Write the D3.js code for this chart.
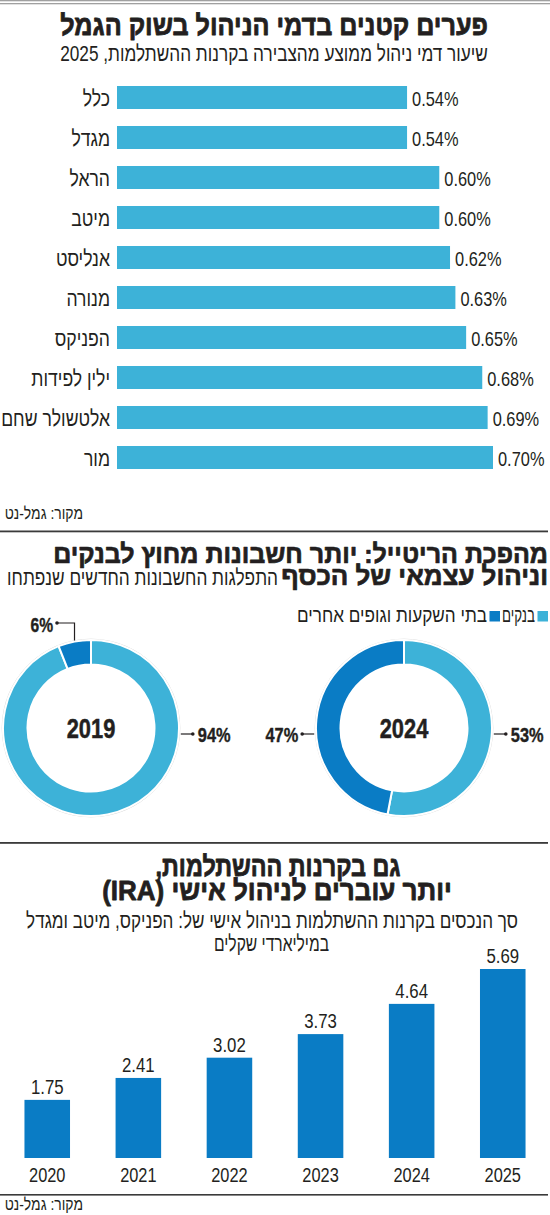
<!DOCTYPE html>
<html><head><meta charset="utf-8">
<script src="https://cdn.jsdelivr.net/npm/d3@7"></script>
<style>html,body{margin:0;padding:0;background:#fff}svg{display:block}</style>
</head><body>
<svg id="c" width="550" height="1215"></svg>
<script>
// ---------- DATA ----------
const title1 = "פערים קטנים בדמי הניהול בשוק הגמל";
const subtitle1 = "שיעור דמי ניהול ממוצע מהצבירה בקרנות ההשתלמות, 2025";
const funds = ["כלל","מגדל","הראל","מיטב","אנליסט","מנורה","הפניקס","ילין לפידות","אלטשולר שחם","מור"];
const fees = [0.54,0.54,0.60,0.60,0.62,0.63,0.65,0.68,0.69,0.70];
const source = "מקור: גמל-נט";

const title2a = "מהפכת הריטייל: יותר חשבונות מחוץ לבנקים";
const title2b = "וניהול עצמאי של הכסף";
const subtitle2 = "התפלגות החשבונות החדשים שנפתחו";
const seriesNames = ["בנקים","בתי השקעות וגופים אחרים"];
const donutYears = ["2019","2024"];
const banksShare = [94,53];
const othersShare = [6,47];

const title3a = "גם בקרנות ההשתלמות,";
const title3b = "יותר עוברים לניהול אישי (IRA)";
const subtitle3a = "סך הנכסים בקרנות ההשתלמות בניהול אישי של: הפניקס, מיטב ומגדל";
const subtitle3b = "במיליארדי שקלים";
const iraYears = ["2020","2021","2022","2023","2024","2025"];
const iraAssets = [1.75,2.41,3.02,3.73,4.64,5.69];

// ---------- STYLE ----------
const LIGHT = "#3db2d8", DARK = "#0a7cc5", INK = "#231f20";
const FONT = "'Liberation Sans', Arial, sans-serif";
const rtl = s => "\u202B" + s + "\u202C";

const svg = d3.select("#c");
svg.append("rect").attr("width",550).attr("height",1215).attr("fill","#fff");

function t(x, y, s, o = {}) {
  const el = svg.append("text")
    .attr("text-anchor", o.anchor || "end")
    .attr("font-family", FONT)
    .attr("font-size", o.size || 19)
    .attr("font-weight", o.weight || "normal")
    .attr("fill", o.fill || INK)
    .text(o.he === false ? s : rtl(s));
  let sx = o.sx || 1;
  if (o.len) sx = o.len / el.node().getComputedTextLength();
  el.attr("transform", `translate(${x},${y}) scale(${sx},1)`);
  if (o.heavy) el.attr("stroke", INK).attr("stroke-width", o.heavy).attr("stroke-linejoin","round");
  return el;
}

// top double rule
svg.append("rect").attr("x",0).attr("y",0).attr("width",550).attr("height",1.3).attr("fill","#a0a0a0");
svg.append("rect").attr("x",0).attr("y",3).attr("width",550).attr("height",1.3).attr("fill","#a0a0a0");

// ---------- SECTION 1 ----------
t(274, 35, title1, {anchor:"middle", size:28, weight:"bold", len:428, heavy:0.8});
t(274, 61, subtitle1, {anchor:"middle", size:22, len:428});

const x1 = d3.scaleLinear().domain([0, 0.70]).range([117, 493]);
const y1 = d3.scaleBand().domain(funds).range([86, 469]).paddingInner(0.425).paddingOuter(0);

svg.append("g").selectAll("rect").data(funds).join("rect")
  .attr("x", x1(0)).attr("y", d => y1(d))
  .attr("width", (d,i) => x1(fees[i]) - x1(0)).attr("height", y1.bandwidth())
  .attr("fill", LIGHT);

funds.forEach((f,i) => {
  t(110, y1(f) + 19.5, f, {size:22, sx:0.8});
  t(x1(fees[i]) + 5, y1(f) + 19.5, fees[i].toFixed(2) + "%", {anchor:"start", size:20, sx:0.82, he:false});
});
t(83, 519, source, {size:17, sx:0.82});

// rule
svg.append("rect").attr("x",0).attr("y",530.5).attr("width",548).attr("height",1.8).attr("fill","#3a3a3a");

// ---------- SECTION 2 ----------
t(548, 563, title2a, {size:26, weight:"bold", len:495, heavy:0.7});
t(548, 585, title2b, {size:26, weight:"bold", len:267, heavy:0.7});
t(278, 585, subtitle2, {size:22, len:271});

// legend
const legendColors = [LIGHT, DARK];
const legendRight = [548, 500];
const legendLen = [33, 190];
seriesNames.forEach((n,i) => {
  svg.append("rect").attr("x", legendRight[i]-10.5).attr("y", 611).attr("width",10.5).attr("height",10.5).attr("fill", legendColors[i]);
  t(legendRight[i]-13, 621.5, n, {size:20, len:legendLen[i]});
});

const rOut = 88, rIn = 63.5, cy = 728;
const cxs = [91, 404];
const pie = d3.pie().sort(null).startAngle(0).endAngle(2*Math.PI);
const arc = d3.arc().innerRadius(rIn).outerRadius(rOut);

donutYears.forEach((yr,k) => {
  const g = svg.append("g").attr("transform", `translate(${cxs[k]},${cy})`);
  g.append("circle").attr("r", rOut + 0.8).attr("fill","none").attr("stroke","#d8d8d8").attr("stroke-width",1);
  const arcs = pie([banksShare[k], othersShare[k]]);
  g.selectAll("path").data(arcs).join("path")
    .attr("d", arc).attr("fill", (d,i) => legendColors[i])
    .attr("stroke","#fff").attr("stroke-width",2);
  t(cxs[k], cy + 10, yr, {anchor:"middle", size:28, weight:"bold", sx:0.78, he:false, heavy:0.5});

  // right label (banks)
  const ly = cy + 6;
  const ex = cxs[k] + Math.sqrt(rOut*rOut - 36);
  svg.append("line").attr("x1", ex + 2).attr("x2", ex + 14).attr("y1", ly).attr("y2", ly).attr("stroke", INK).attr("stroke-width",1.2);
  svg.append("circle").attr("cx", ex + 14).attr("cy", ly).attr("r", 1.8).attr("fill", INK);
  t(ex + 19, ly + 8, banksShare[k] + "%", {anchor:"start", size:21, weight:"bold", sx:0.78, he:false, heavy:0.4});

  if (k === 1) {
    const lx = cxs[k] - Math.sqrt(rOut*rOut - 36);
    svg.append("line").attr("x1", lx - 2).attr("x2", lx - 14).attr("y1", ly).attr("y2", ly).attr("stroke", INK).attr("stroke-width",1.2);
    svg.append("circle").attr("cx", lx - 14).attr("cy", ly).attr("r", 1.8).attr("fill", INK);
    t(lx - 18, ly + 8, othersShare[k] + "%", {size:21, weight:"bold", sx:0.78, he:false, heavy:0.4});
  } else {
    const a = arcs[1];
    const mid = (a.startAngle + a.endAngle) / 2;
    const px = cxs[k] + rOut * Math.sin(mid), py = cy - rOut * Math.cos(mid);
    const topY = 623;
    svg.append("path").attr("d", `M${px},${py - 1}V${topY}H${57}`).attr("fill","none").attr("stroke", INK).attr("stroke-width",1.2);
    svg.append("circle").attr("cx", 57).attr("cy", topY).attr("r", 1.8).attr("fill", INK);
    t(53, 632, othersShare[k] + "%", {size:20, weight:"bold", sx:0.78, he:false, heavy:0.4});
  }
});

// rule
svg.append("rect").attr("x",0).attr("y",842).attr("width",548).attr("height",1.8).attr("fill","#3a3a3a");

// ---------- SECTION 3 ----------
t(278, 876, title3a, {anchor:"middle", size:28, weight:"bold", len:245, heavy:0.8});
t(277, 900, title3b, {anchor:"middle", size:28, weight:"bold", len:350, heavy:0.8});
t(272, 928, subtitle3a, {anchor:"middle", size:22, len:492});
t(271.5, 951, subtitle3b, {anchor:"middle", size:22, len:115});

const x3 = d3.scaleBand().domain(iraYears).range([2, 548]).paddingInner(0.5).paddingOuter(0.2466);
const y3 = d3.scaleLinear().domain([0, 5.69]).range([1158, 969]);

svg.append("g").selectAll("rect").data(iraYears).join("rect")
  .attr("x", d => x3(d)).attr("width", x3.bandwidth())
  .attr("y", (d,i) => y3(iraAssets[i])).attr("height", (d,i) => y3(0) - y3(iraAssets[i]))
  .attr("fill", DARK);

iraYears.forEach((yr,i) => {
  const cx = x3(yr) + x3.bandwidth()/2;
  t(cx, y3(iraAssets[i]) - 6, iraAssets[i].toFixed(2), {anchor:"middle", size:21, sx:0.8, he:false});
  t(cx, 1182, yr, {anchor:"middle", size:21, sx:0.78, he:false});
});

svg.append("rect").attr("x",0).attr("y",1194).attr("width",548).attr("height",1.6).attr("fill","#3a3a3a");
t(83, 1210, source, {size:17, sx:0.82});
</script>
</body></html>
